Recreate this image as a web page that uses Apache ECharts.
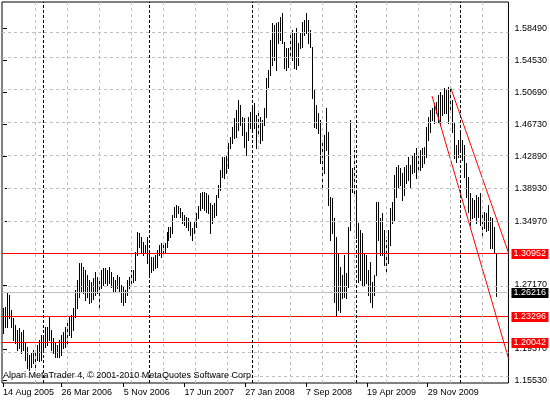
<!DOCTYPE html>
<html><head><meta charset="utf-8">
<script src="https://cdn.jsdelivr.net/npm/echarts@6/dist/echarts.min.js"></script>
<style>html,body{margin:0;padding:0;background:#fff}#c{width:550px;height:400px}</style>
</head><body><div id="c"></div>
<script>
// Weekly EURUSD bars, first bar week of 14 Aug 2005
const firstWeek = [2005, 7, 14];
const highs = [
1.2440,1.2450,1.2615,1.2595,1.2412,1.2310,1.2229,1.2168,1.2188,1.2148,
1.2168,1.2026,1.1965,1.1863,1.1883,1.1924,1.1900,1.1985,1.2046,1.2107,
1.2066,1.2209,1.2209,1.2331,1.2168,1.2066,1.2005,1.1985,1.2046,1.2107,
1.2148,1.2209,1.2290,1.2331,1.2351,1.2432,1.2656,1.2778,1.2981,1.2981,
1.2941,1.2900,1.2839,1.2778,1.2758,1.2800,1.2880,1.2818,1.2778,1.2900,
1.2920,1.2920,1.2900,1.2940,1.2880,1.2818,1.2778,1.2839,1.2818,1.2717,
1.2696,1.2656,1.2778,1.2818,1.2900,1.2900,1.3123,1.3368,1.3347,1.3306,
1.3246,1.3205,1.3306,1.3103,1.3062,1.3062,1.3083,1.3144,1.3205,1.3225,
1.3246,1.3225,1.3368,1.3428,1.3428,1.3571,1.3673,1.3693,1.3681,1.3652,
1.3612,1.3571,1.3550,1.3530,1.3489,1.3408,1.3500,1.3600,1.3680,1.3835,
1.3856,1.3856,1.3835,1.3815,1.3713,1.3693,1.3713,1.3815,1.3937,1.4120,
1.4283,1.4283,1.4303,1.4445,1.4527,1.4649,1.4750,1.4852,1.4974,1.4913,
1.4771,1.4750,1.4588,1.4771,1.4832,1.4893,1.4933,1.4791,1.4852,1.4771,
1.4730,1.4872,1.5238,1.5340,1.5706,1.5909,1.5889,1.5909,1.5930,1.5991,
1.6031,1.5686,1.5604,1.5604,1.5808,1.5828,1.5787,1.5848,1.5665,1.5787,
1.5930,1.5950,1.6031,1.5950,1.5828,1.5625,1.5096,1.4913,1.4811,1.4730,
1.4445,1.4547,1.4872,1.4588,1.3794,1.3774,1.3530,1.3306,1.3103,1.2940,
1.2839,1.3083,1.2859,1.3428,1.4730,1.4140,1.4364,1.3856,1.3469,1.3388,
1.3347,1.3103,1.3083,1.2900,1.3001,1.2757,1.2839,1.3733,1.3733,1.3530,
1.3591,1.3388,1.3266,1.3388,1.3652,1.3733,1.4059,1.4161,1.4181,1.4140,
1.4079,1.4161,1.4181,1.4283,1.4181,1.4303,1.4323,1.4384,1.4323,1.4364,
1.4384,1.4405,1.4649,1.4771,1.4852,1.4872,1.4933,1.4954,1.5035,1.5076,
1.5035,1.5116,1.5096,1.5137,1.5137,1.4974,1.4689,1.4425,1.4486,1.4567,
1.4486,1.4425,1.4201,1.4039,1.3835,1.3774,1.3754,1.3815,1.3795,1.3835,
1.3591,1.3612,1.3590,1.3693,1.3551,1.3530,1.3429,1.3103
];
const lows = [
1.2130,1.2200,1.2210,1.2310,1.2209,1.2046,1.2005,1.1924,1.1944,1.1883,
1.1924,1.1802,1.1700,1.1680,1.1720,1.1761,1.1720,1.1802,1.1790,1.1802,
1.1904,1.1965,1.1985,1.2046,1.1924,1.1883,1.1843,1.1843,1.1843,1.1863,
1.1944,1.1965,1.1985,1.2107,1.2087,1.2168,1.2331,1.2432,1.2575,1.2636,
1.2615,1.2534,1.2575,1.2493,1.2514,1.2550,1.2600,1.2615,1.2452,1.2676,
1.2717,1.2737,1.2717,1.2737,1.2696,1.2635,1.2635,1.2676,1.2635,1.2513,
1.2473,1.2513,1.2595,1.2676,1.2737,1.2757,1.2778,1.3083,1.3185,1.3103,
1.3083,1.3103,1.2981,1.2839,1.2880,1.2900,1.2920,1.2940,1.3083,1.3062,
1.3083,1.3103,1.3185,1.3266,1.3306,1.3347,1.3550,1.3550,1.3591,1.3550,
1.3469,1.3449,1.3428,1.3388,1.3327,1.3266,1.3350,1.3430,1.3530,1.3632,
1.3652,1.3632,1.3612,1.3591,1.3347,1.3469,1.3550,1.3571,1.3794,1.3876,
1.4038,1.4018,1.4079,1.4140,1.4384,1.4445,1.4506,1.4527,1.4608,1.4669,
1.4547,1.4405,1.4303,1.4486,1.4628,1.4588,1.4628,1.4384,1.4567,1.4445,
1.4486,1.4669,1.4771,1.5137,1.5279,1.5401,1.5462,1.5340,1.5665,1.5706,
1.5665,1.5360,1.5340,1.5381,1.5482,1.5462,1.5370,1.5350,1.5400,1.5604,
1.5625,1.5767,1.5787,1.5665,1.5625,1.4994,1.4649,1.4628,1.4567,1.4201,
1.3876,1.4079,1.4364,1.3693,1.3266,1.3347,1.2513,1.2351,1.2412,1.2391,
1.2554,1.2575,1.2554,1.2696,1.3388,1.3856,1.3835,1.3286,1.2757,1.2778,
1.2717,1.2717,1.2737,1.2595,1.2513,1.2452,1.2600,1.2839,1.3266,1.3083,
1.3083,1.2961,1.2880,1.2981,1.3205,1.3469,1.3510,1.3794,1.3896,1.3937,
1.3754,1.3815,1.3957,1.3998,1.3896,1.4079,1.4100,1.4018,1.4120,1.4120,
1.4161,1.4201,1.4283,1.4486,1.4588,1.4730,1.4689,1.4811,1.4710,1.4669,
1.4791,1.4811,1.4811,1.4689,1.4832,1.4588,1.4262,1.4222,1.4283,1.4364,
1.4242,1.4039,1.3794,1.3612,1.3449,1.3530,1.3551,1.3469,1.3551,1.3449,
1.3286,1.3408,1.3380,1.3388,1.3164,1.3164,1.3103,1.2585
];
const yTickValues = [1.58490,1.54530,1.50690,1.46730,1.42890,1.38930,1.34970,1.31010,1.27170,1.23330,1.19370,1.15530];
const xTickIdx = [0, 29.35, 60.5, 91, 121.5, 152, 182.5, 213];
const xTickLabels = ['14 Aug 2005','26 Mar 2006','5 Nov 2006','17 Jun 2007','27 Jan 2008','7 Sep 2008','19 Apr 2009','29 Nov 2009'];
const redLevels = [1.30952, 1.23296, 1.20042];
const bidPrice = 1.26216;
const trendLine1 = [[215.15, 1.5023], [253.5, 1.1823]];
const trendLine2 = [[224.35, 1.5136], [253.5, 1.3111]];
const copyrightText = 'Alpari MetaTrader 4, \u00a9 2001-2010 MetaQuotes Software Corp.';

const SLOTS = 254;
const FONT = 'Liberation Sans';
const Y_MIN = 1.15214, Y_MAX = 1.61696;
const X_MIN = -0.5, X_MAX = SLOTS - 0.5;

// year separators derived from weekly dates
const yearSep = [];
const t0 = Date.UTC(firstWeek[0], firstWeek[1], firstWeek[2]);
let prevYear = null;
for (let i = 0; i < highs.length; i++) {
  const y = new Date(t0 + i * 7 * 864e5).getUTCFullYear();
  if (prevYear !== null && y !== prevYear) yearSep.push(i);
  prevYear = y;
}

const hidden = v => redLevels.concat([bidPrice]).some(l => Math.abs(l - v) < 0.0015);
const gridLines = [];
yTickValues.filter(v => !hidden(v)).forEach(v => gridLines.push({yAxis: v, lineStyle: {color: '#c0c0c0', type: [3, 3], width: 1}}));
for (let v = 16.25; v < X_MAX; v += 16) gridLines.push({xAxis: v, lineStyle: {color: '#c0c0c0', type: [3, 3], width: 1}});
yearSep.forEach(i => gridLines.push({xAxis: i + 0.25, lineStyle: {color: '#000', type: [3, 2], width: 1}}));

// level data: [price, kind] kind 0 = bid line, 1 = red level
const levelData = [[bidPrice, 0]].concat(redLevels.map(v => [v, 1]));
const LINE_COL = ['#c0c0c0', '#ff0000'];
const BOX_COL = ['#000000', '#ff0000'];

const chart = echarts.init(document.getElementById('c'), null, {renderer: 'canvas'});
chart.setOption({
  animation: false,
  backgroundColor: '#fff',
  title: {text: copyrightText, left: 3, top: 371, padding: 0,
    textStyle: {fontSize: 9, fontWeight: 'normal', color: '#000', fontFamily: FONT}},
  grid: {left: 2, top: 2, width: 508, height: 381, show: true, borderColor: '#000', borderWidth: 1, backgroundColor: 'transparent'},
  xAxis: {
    type: 'value', min: X_MIN, max: X_MAX,
    axisLine: {show: false},
    axisTick: {show: true, customValues: xTickIdx, length: 4, lineStyle: {color: '#000'}},
    axisLabel: {show: true, customValues: xTickIdx, align: 'left', margin: 5, fontSize: 9, fontFamily: FONT, color: '#000',
      showMinLabel: true, showMaxLabel: true,
      formatter: v => { let b = 0; xTickIdx.forEach((t, k) => { if (Math.abs(t - v) < Math.abs(xTickIdx[b] - v)) b = k; }); return xTickLabels[b]; }},
    splitLine: {show: false}
  },
  yAxis: {
    type: 'value', position: 'right', min: Y_MIN, max: Y_MAX,
    axisLine: {show: false},
    axisTick: {show: true, customValues: yTickValues, length: 4, lineStyle: {color: '#000'}},
    axisLabel: {show: true, customValues: yTickValues, margin: 6, fontSize: 9, fontFamily: FONT, color: '#000',
      formatter: v => Number(v).toFixed(5)},
    splitLine: {show: false}
  },
  series: [
    {type: 'line', data: [], z: 1, silent: true,
      markLine: {silent: true, symbol: ['none', 'none'], animation: false, label: {show: false}, data: gridLines}},
    {type: 'custom', z: 2, silent: true,
      data: highs.map((h, i) => [i, h, lows[i]]),
      encode: {x: 0, y: [1, 2]},
      renderItem: (params, api) => {
        const i = api.value(0);
        const p1 = api.coord([i, api.value(1)]);
        const p2 = api.coord([i, api.value(2)]);
        const px = Math.round(p1[0]) + 0.5;
        return {type: 'line', shape: {x1: px, y1: Math.round(p1[1]), x2: px, y2: Math.round(p2[1]) + 1},
          style: {stroke: '#000', lineWidth: 1}};
      }},
    {type: 'custom', z: 3, silent: true, clip: false,
      data: levelData,
      encode: {y: 0},
      renderItem: (params, api) => {
        const v = api.value(0), kind = api.value(1);
        const cs = params.coordSys;
        const y = Math.round(api.coord([0, v])[1]) - 0.5;
        return {type: 'group', children: [
          {type: 'line', shape: {x1: cs.x, y1: y, x2: cs.x + cs.width, y2: y},
            style: {stroke: LINE_COL[kind], lineWidth: 1}},
          {type: 'rect', shape: {x: cs.x + cs.width + 3, y: Math.round(y) - 5, width: 37, height: 10},
            style: {fill: BOX_COL[kind]}},
          {type: 'text', x: cs.x + cs.width + 5, y: Math.round(y),
            style: {text: v.toFixed(5), fill: '#fff', font: '9px "' + FONT + '"', align: 'left', verticalAlign: 'middle'}}
        ]};
      }},
    {type: 'line', data: trendLine1, z: 4, silent: true, symbol: 'none', lineStyle: {color: '#ff0000', width: 1}},
    {type: 'line', data: trendLine2, z: 4, silent: true, symbol: 'none', lineStyle: {color: '#ff0000', width: 1}}
  ]
});
</script></body></html>
